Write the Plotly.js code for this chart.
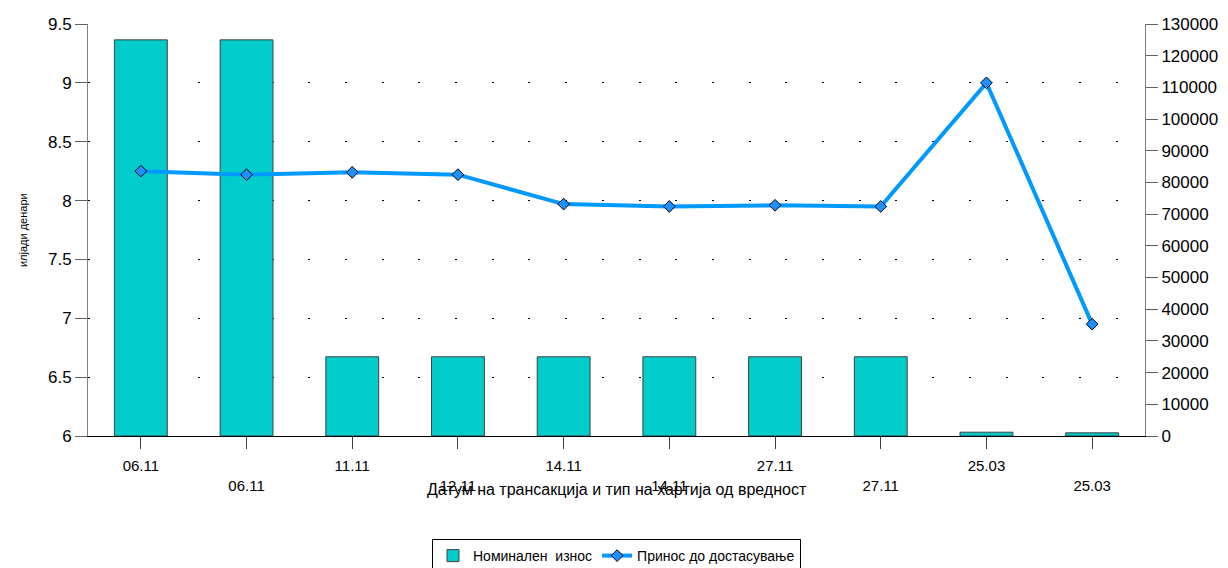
<!DOCTYPE html>
<html>
<head>
<meta charset="utf-8">
<script src="https://cdn.plot.ly/plotly-3.0.1.min.js"></script>
<style>
  html, body { margin: 0; padding: 0; background: #fff; }
  #chart { width: 1228px; height: 568px; }
</style>
</head>
<body>
<div id="chart"></div>
<script>
// dates of the transactions (two rows of labels under the axis)
const dateLabels = ['06.11', '06.11', '11.11', '12.11', '14.11', '14.11', '27.11', '27.11', '25.03', '25.03'];
// nominal amount, thousands of denars (right axis)
const nominalAmount = [125000, 125000, 25000, 25000, 25000, 25000, 25000, 25000, 1200, 1000];
// yield to maturity, % (left axis)
const yieldToMaturity = [8.25, 8.22, 8.24, 8.22, 7.97, 7.95, 7.96, 7.95, 9.00, 6.95];

const positions = dateLabels.map((_, i) => i);
// every second label sits one line lower
const tickText = dateLabels.map((d, i) => (i % 2 === 0 ? d : '<br>' + d));

const font = 'Liberation Sans, Arial, sans-serif';

const bars = {
  x: positions,
  y: nominalAmount,
  type: 'bar',
  name: 'Номинален  износ',
  yaxis: 'y',
  width: 0.5,
  marker: { color: '#00CCCC', line: { color: '#404040', width: 1 } },
  hoverinfo: 'skip'
};

const line = {
  x: positions,
  y: yieldToMaturity,
  type: 'scatter',
  mode: 'lines+markers',
  name: 'Принос до достасување',
  yaxis: 'y2',
  line: { color: '#0099FF', width: 4 },
  marker: { symbol: 'diamond', size: 9, color: '#1E90FF', line: { color: '#000', width: 1 } },
  hoverinfo: 'skip'
};

const layout = {
  width: 1228,
  height: 568,
  margin: { l: 88, r: 83, t: 24, b: 132, autoexpand: false },
  paper_bgcolor: '#ffffff',
  plot_bgcolor: '#ffffff',
  font: { family: font, color: '#000' },
  showlegend: true,
  legend: {
    orientation: 'h',
    x: 0.5, xanchor: 'center',
    y: -0.25, yanchor: 'top',
    bordercolor: '#000', borderwidth: 1,
    font: { size: 14, family: font },
    traceorder: 'normal'
  },
  xaxis: {
    range: [-0.5, 9.5],
    tickvals: positions,
    ticktext: tickText,
    ticks: 'outside',
    ticklen: 12,
    tickcolor: '#404040',
    tickfont: { size: 15 },
    ticklabelstandoff: 4,
    showline: true,
    linecolor: '#000',
    linewidth: 1,
    showgrid: false,
    zeroline: false,
    fixedrange: true
  },
  // bars: right-hand scale
  yaxis: {
    side: 'right',
    range: [0, 130000],
    dtick: 10000,
    tickformat: 'd',
    ticks: 'outside',
    ticklen: 12,
    tickcolor: '#606060',
    tickfont: { size: 17 },
    showline: true,
    linecolor: '#808080',
    showgrid: false,
    zeroline: false
  },
  // yield line: left-hand scale, drawn on top of the bars
  yaxis2: {
    overlaying: 'y',
    side: 'left',
    range: [6, 9.5],
    dtick: 0.5,
    ticks: 'outside',
    ticklen: 12,
    tickcolor: '#606060',
    tickfont: { size: 17 },
    showline: true,
    linecolor: '#808080',
    showgrid: true,
    gridcolor: '#000',
    gridwidth: 1,
    griddash: '2px,34.7px',
    zeroline: false
  },
  annotations: [
    {
      text: 'Датум на трансакција и тип на хартија од вредност',
      xref: 'paper', yref: 'paper',
      x: 0.5, y: -0.13, yanchor: 'middle',
      showarrow: false,
      font: { size: 16 }
    },
    {
      text: 'илјади денари',
      xref: 'paper', yref: 'paper',
      x: -0.069, y: 0.5, textangle: -90,
      showarrow: false,
      font: { size: 11 }
    }
  ]
};

Plotly.newPlot('chart', [bars, line], layout, { displayModeBar: false, staticPlot: true });
</script>
</body>
</html>
